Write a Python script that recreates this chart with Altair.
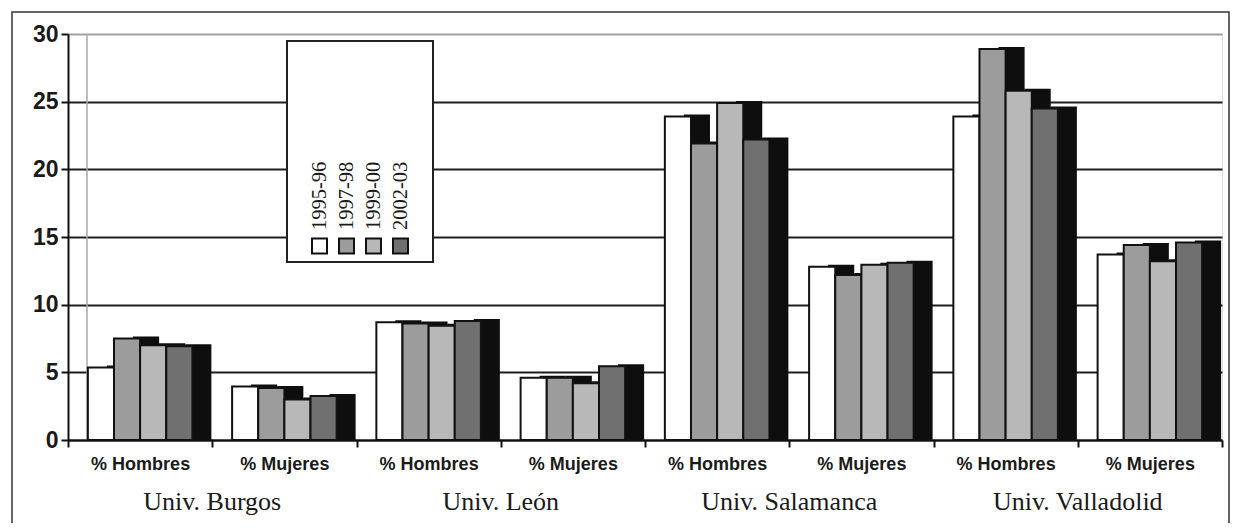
import altair as alt
import pandas as pd

universities = ["Univ. Burgos", "Univ. León", "Univ. Salamanca", "Univ. Valladolid"]
sexes = ["% Hombres", "% Mujeres"]
series = ["1995-96", "1997-98", "1999-00", "2002-03"]
colors = ["#ffffff", "#9c9c9c", "#b8b8b8", "#707070"]

# order: Burgos H, Burgos M, León H, León M, Salamanca H, Salamanca M, Valladolid H, Valladolid M
v_1995 = [5.35, 3.95, 8.7, 4.6, 23.9, 12.8, 23.9, 13.7]
v_1997 = [7.5, 3.85, 8.6, 4.6, 21.9, 12.2, 28.9, 14.4]
v_1999 = [7.0, 3.0, 8.45, 4.2, 24.9, 12.95, 25.8, 13.2]
v_2002 = [6.93, 3.25, 8.8, 5.45, 22.2, 13.1, 24.5, 14.6]
series_values = [v_1995, v_1997, v_1999, v_2002]

y_ticks = [0, 5, 10, 15, 20, 25, 30]

cats = [f"{u}|{s}" for u in universities for s in sexes]
rows = []
for serie, vals in zip(series, series_values):
    for cat, v in zip(cats, vals):
        rows.append({"cat": cat, "serie": serie, "value": v})
df = pd.DataFrame(rows)
df_univ = pd.DataFrame({"cat": [f"{u}|{sexes[1]}" for u in universities], "univ": universities})
df_leg = pd.DataFrame({"serie": series})

W, H = 1154, 406

xscale = alt.Scale(domain=cats, paddingInner=0, paddingOuter=0)
offscale = alt.Scale(domain=series, paddingInner=0, paddingOuter=0.76)
# depth (shadow) of each bar: same band, pushed ~19px to the right
offscale_depth = alt.Scale(domain=series, paddingInner=0, paddingOuter=0.76, align=0.978)
yscale = alt.Scale(domain=[0, 30], nice=False)
cscale = alt.Scale(domain=series, range=colors)

xaxis = alt.Axis(
    title=None, labelAngle=0, tickBand="extent",
    labelExpr="split(datum.label, '|')[1]",
    labelFont="Liberation Sans", labelFontWeight="bold", labelFontSize=18, labelColor="#1a1a1a",
    labelPadding=8, tickSize=7, tickWidth=2, tickColor="#111",
    domainColor="#111", domainWidth=2, grid=False, zindex=1,
)
yaxis = alt.Axis(
    title=None, values=y_ticks, grid=True,
    gridColor={"condition": {"test": "datum.value >= 30", "value": "#a0a0a0"}, "value": "#1e1e1e"},
    gridWidth=2, domainColor="#111", domainWidth=2, tickColor="#111", tickWidth=2, tickSize=7,
    labelFont="Liberation Sans", labelFontWeight="bold", labelFontSize=23, labelColor="#1a1a1a",
    labelPadding=3,
)

base = alt.Chart(df)

wall = alt.Chart(pd.DataFrame({"a": [0]})).mark_rule(color="#a8a8a8", strokeWidth=1.5).encode(
    x=alt.value(19), y=alt.value(0), y2=alt.value(H)
)

shadows = base.mark_bar(color="#0e0e0e", yOffset=-2).encode(
    x=alt.X("cat:N", scale=xscale, axis=xaxis, sort=cats),
    xOffset=alt.XOffset("serie:N", scale=offscale_depth, sort=series),
    y=alt.Y("value:Q", scale=yscale, axis=yaxis, stack=None),
)

faces = base.mark_bar(stroke="#111", strokeWidth=2).encode(
    x=alt.X("cat:N", scale=xscale, axis=xaxis, sort=cats),
    xOffset=alt.XOffset("serie:N", scale=offscale, sort=series),
    y=alt.Y("value:Q", scale=yscale, axis=yaxis, stack=None),
    color=alt.Color("serie:N", scale=cscale, legend=None),
)

univ_text = alt.Chart(df_univ).mark_text(
    font="Liberation Serif", fontSize=26, color="#1a1a1a", baseline="middle", align="center"
).encode(
    x=alt.X("cat:N", scale=xscale, axis=xaxis, sort=cats, bandPosition=0),
    y=alt.value(H + 62),
    text="univ:N",
)

frame = alt.Chart(pd.DataFrame({"a": [0]})).mark_rect(
    fillOpacity=0, stroke="#333", strokeWidth=1.5
).encode(x=alt.value(-56), x2=alt.value(W + 7), y=alt.value(-22), y2=alt.value(H + 160))

main = alt.layer(wall, shadows, faces, univ_text, frame).resolve_scale(xOffset="independent")

leg_x = alt.X("serie:N", scale=alt.Scale(type="point", domain=series, range=[238, 346]), axis=None)

leg_box = alt.Chart(pd.DataFrame({"a": [0]})).mark_rect(
    fill="white", stroke="#222", strokeWidth=2
).encode(x=alt.value(219), x2=alt.value(365), y=alt.value(7), y2=alt.value(228))

leg_sw = alt.Chart(df_leg).mark_square(size=225, stroke="#111", strokeWidth=2, opacity=1).encode(
    x=leg_x, y=alt.value(212), color=alt.Color("serie:N", scale=cscale, legend=None)
)

leg_txt = alt.Chart(df_leg).mark_text(
    angle=270, align="left", baseline="middle", font="Liberation Serif", fontSize=20.5, color="#1a1a1a"
).encode(x=leg_x, y=alt.value(196), text="serie:N")

legend = alt.layer(leg_box, leg_sw, leg_txt)

chart = alt.layer(main, legend).resolve_scale(x="independent").properties(
    width=W, height=H,
    autosize=alt.AutoSizeParams(type="none"),
    padding={"left": 60, "top": 26, "right": 8, "bottom": 83},
).configure_view(stroke=None).configure(background="white")

chart.save("out.html", embed_options={"renderer": "svg", "actions": False})
